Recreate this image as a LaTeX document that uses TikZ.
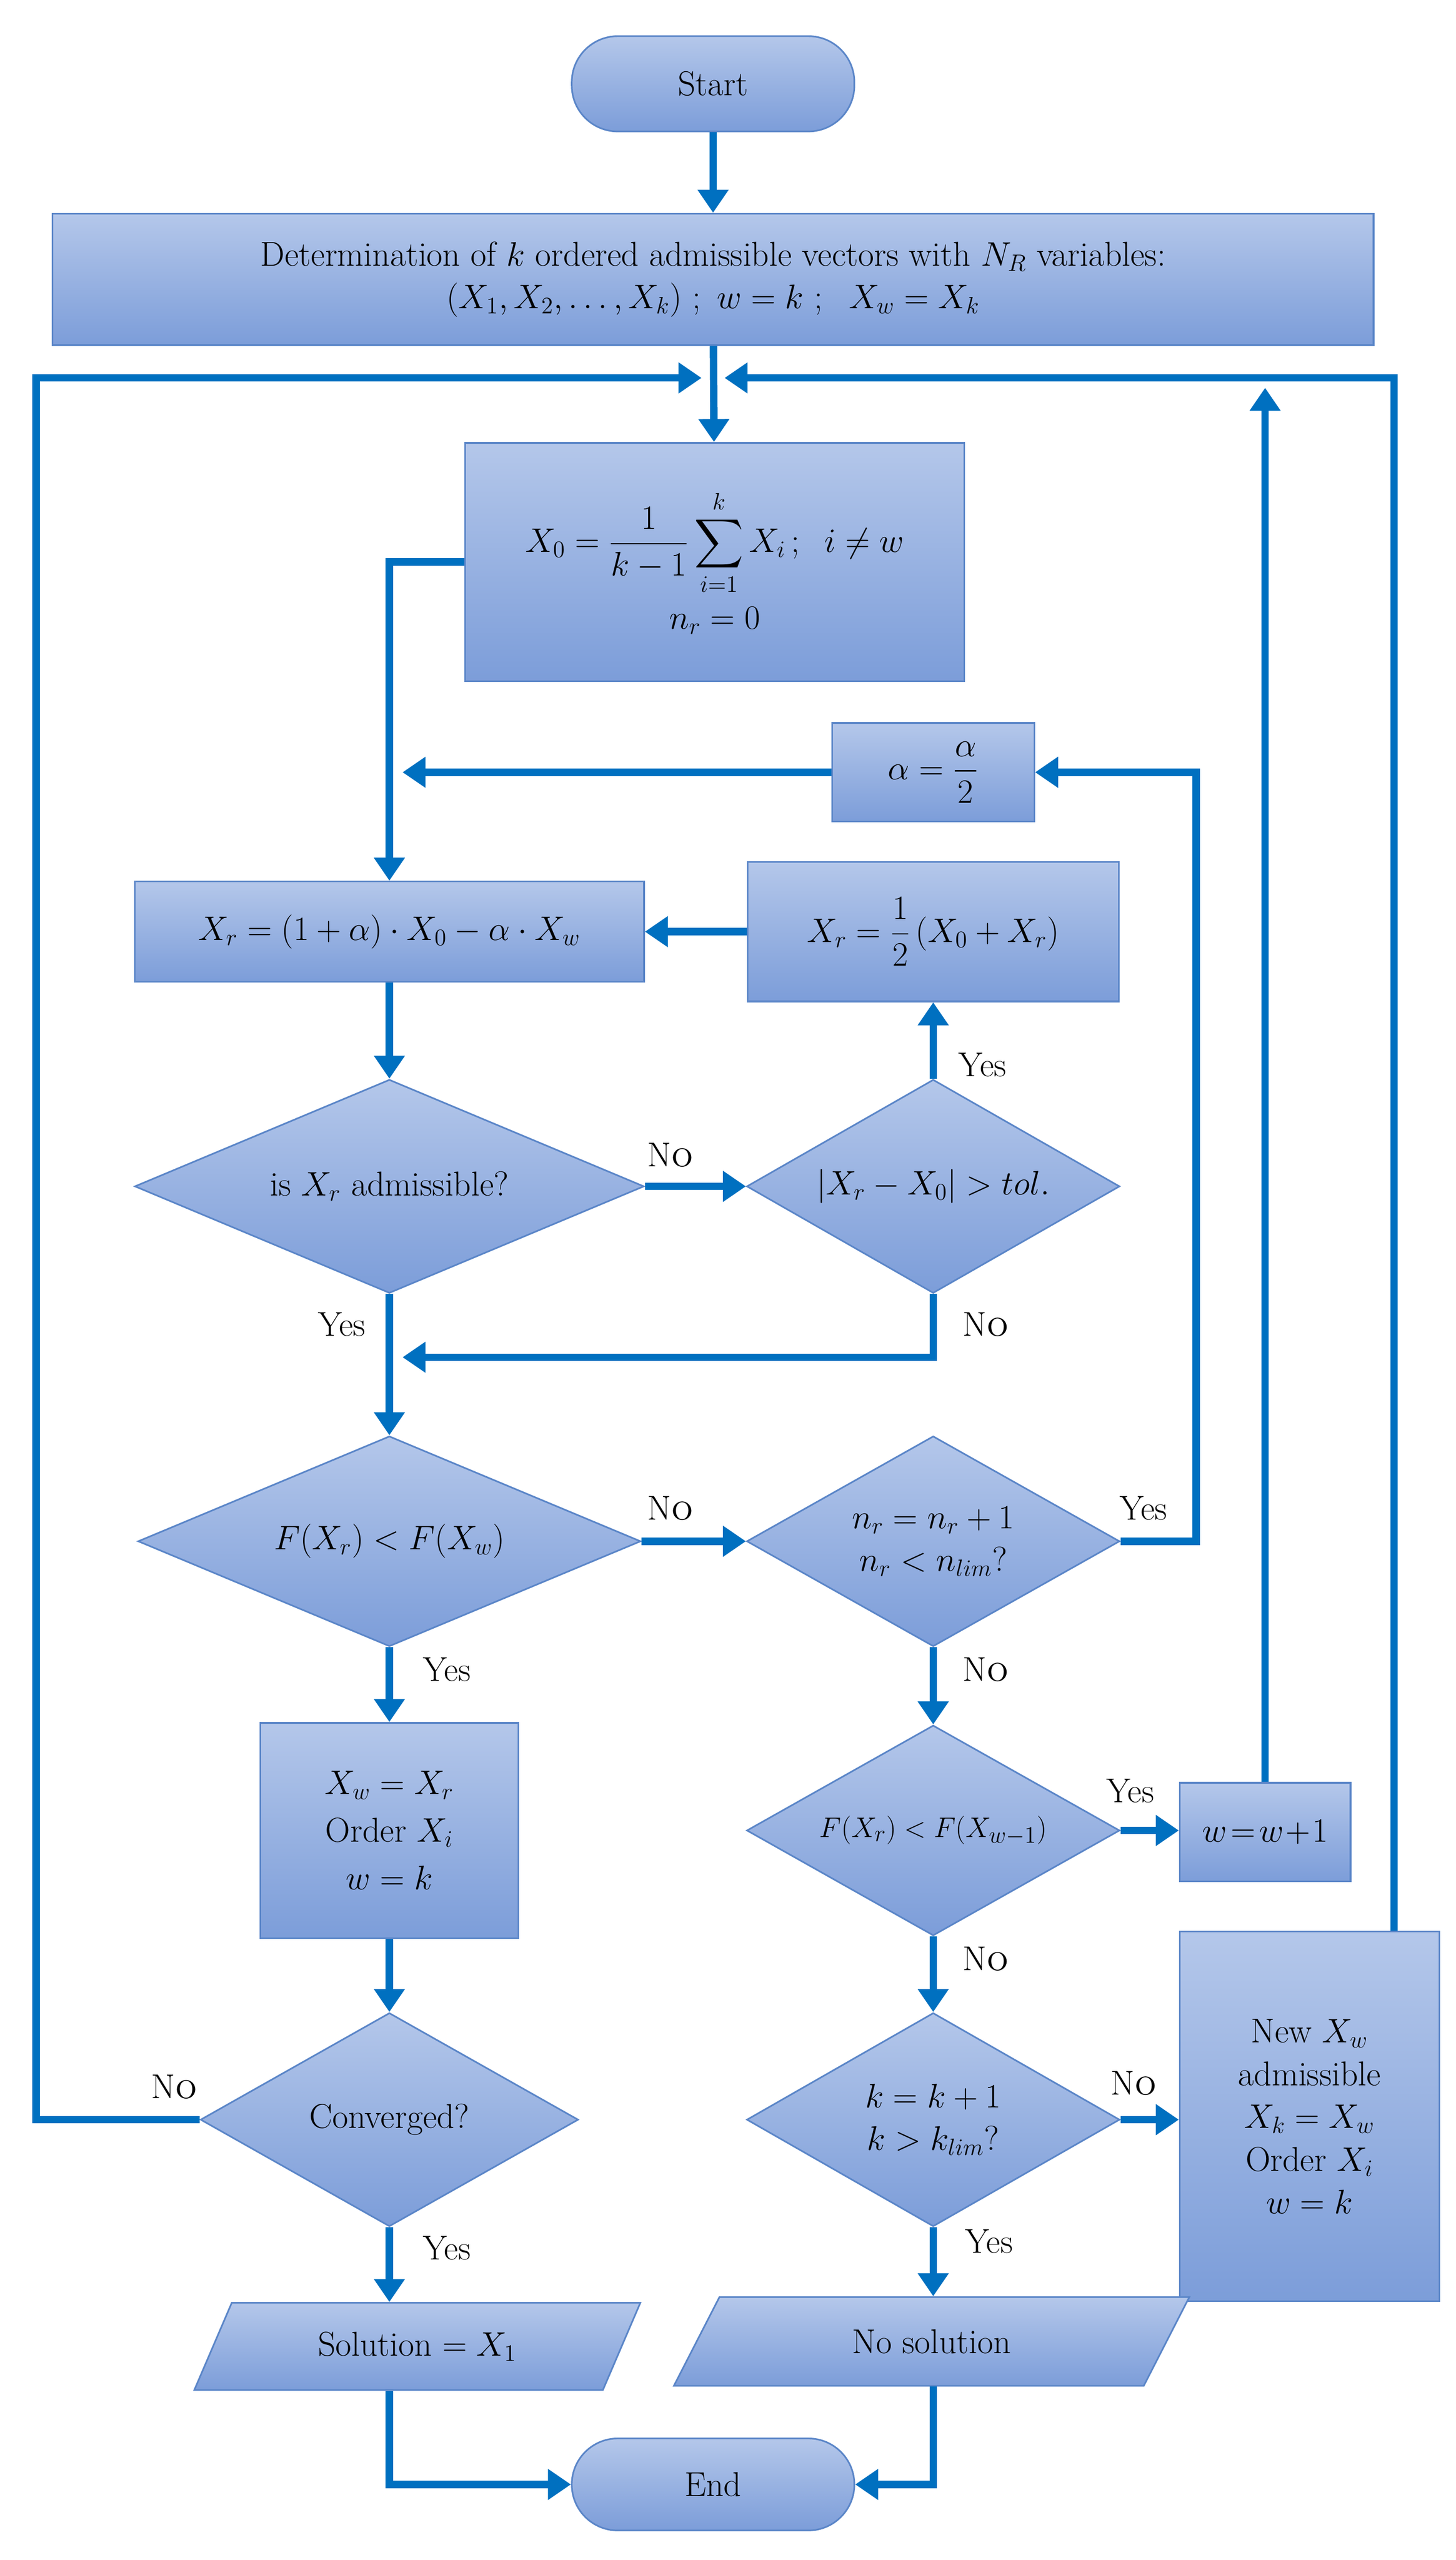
\documentclass[tikz,border=0pt]{standalone}
\usepackage{amsmath}
\usetikzlibrary{shapes.geometric,arrows.meta}
\definecolor{lnc}{HTML}{0070C0}
\definecolor{bd}{HTML}{5B86C8}
\definecolor{ft}{HTML}{B4C7EA}
\definecolor{fb}{HTML}{7C9DD9}
\newcommand{\NoL}{N\textsc{o}}
\begin{document}
\begin{tikzpicture}[x=1pt,y=-1pt,
 every node/.style={font=\fontsize{21}{26}\selectfont},
 base/.style={draw=bd, line width=1pt, top color=ft, bottom color=fb, inner sep=2pt, align=center},
 box/.style={base, rectangle},
 term/.style={base, rounded corners=28pt},
 dia/.style={base, diamond, inner sep=0pt, aspect=1.75},
 para/.style={base, trapezium, trapezium left angle=60, trapezium right angle=120, trapezium stretches=true},
 arr/.style={draw=lnc, line width=4.5pt, -{Triangle[length=14pt,width=18pt]}},
 wire/.style={draw=lnc, line width=4.5pt},
 lab/.style={inner sep=0pt}]
\useasboundingbox (0,0) rectangle (886,1558);
\node[term, minimum width=172pt, minimum height=58pt] (start) at (434,51) {Start};
\node[box, minimum width=804pt, minimum height=80pt] (b1) at (434,170) {Determination of $k$ ordered admissible vectors with $N_R$ variables:\\ $(X_1,X_2,\ldots,X_k)\ ;\ w=k\ ;\ \ X_w=X_k$};
\node[box, minimum width=304pt, minimum height=145pt] (b2) at (435,342) {$X_0=\dfrac{1}{k-1}\displaystyle\sum_{i=1}^{k}X_i\,;\;\; i\neq w$\\[6pt] $n_r=0$};
\node[box, minimum width=123pt, minimum height=60pt] (alpha) at (568,470) {$\alpha=\dfrac{\alpha}{2}$};
\node[box, minimum width=310pt, minimum height=61pt] (b3) at (237,567) {$X_r=(1+\alpha)\cdot X_0-\alpha\cdot X_w$};
\node[box, minimum width=226pt, minimum height=85pt] (b4) at (568,567) {$X_r=\dfrac{1}{2}\,(X_0+X_r)$};
\node[dia, aspect=2.4, minimum width=310pt, minimum height=130pt] (d1) at (237,722) {is $X_r$ admissible?};
\node[dia, minimum width=227pt, minimum height=130pt] (d2) at (568,722) {$|X_r-X_0|>tol.$};
\node[dia, aspect=2.4, minimum width=306pt, minimum height=128pt] (d3) at (237,938) {$F(X_r)<F(X_w)$};
\node[dia, minimum width=227pt, minimum height=128pt] (d4) at (568,938) {$n_r=n_r+1$\\$n_r<n_{lim}$?};
\node[box, minimum width=157pt, minimum height=131pt] (b5) at (237,1114) {$X_w=X_r$\\[3pt]Order $X_i$\\[3pt]$w=k$};
\node[dia, minimum width=227pt, minimum height=128pt, font=\fontsize{19}{24}\selectfont] (d5) at (568,1114) {$F(X_r)<F(X_{w-1})$};
\node[box, minimum width=104pt, minimum height=60pt] (b6) at (770,1115) {$w\!=\!w\!+\!1$};
\node[dia, minimum width=227pt, minimum height=130pt] (d6) at (568,1290) {$k=k+1$\\$k>k_{lim}$?};
\node[box, minimum width=158pt, minimum height=225pt] (b7) at (797,1288) {New $X_w$\\admissible\\$X_k=X_w$\\Order $X_i$\\$w=k$};
\node[dia, minimum width=230pt, minimum height=130pt] (d7) at (237,1290) {Converged?};
\node[para, minimum width=272pt, minimum height=53pt] (p1) at (254,1428) {Solution $=X_1$};
\node[para, minimum width=314pt, minimum height=54pt] (p2) at (567,1425) {No solution};
\node[term, minimum width=172pt, minimum height=56pt] (end) at (434,1512) {End};
\coordinate (jl) at (427,230);
\coordinate (jr) at (441,230);
\coordinate (vl1) at (245,470);
\coordinate (vl2) at (245,826);
\coordinate (c6) at (770,236);
% connectors
\draw[arr] (start) -- (b1);
\draw[arr] (b1) -- (b2);
\draw[arr] (d7.west) -- (22,1290) -- (22,230) -- (jl);
\draw[arr] ([xshift=-28pt]b7.north east) -- ++(0,-945) -- (jr);
\draw[arr] (b6.north) -- (c6);
\draw[arr] (b2.west) -| (b3.north);
\draw[arr] (alpha.west) -- (vl1);
\draw[arr] (b4.west) -- (b3.east);
\draw[arr] (b3) -- (d1);
\draw[arr] (d1.east) -- (d2.west);
\draw[arr] (d2.north) -- (b4.south);
\draw[arr] (d2.south) |- (vl2);
\draw[arr] (d1.south) -- (d3.north);
\draw[arr] (d3.east) -- (d4.west);
\draw[arr] (d4.east) -- (728,938) |- (alpha.east);
\draw[arr] (d3.south) -- (b5.north);
\draw[arr] (d4.south) -- (d5.north);
\draw[arr] (d5.east) -- (b6.west |- d5.east);
\draw[arr] (d5.south) -- (d6.north);
\draw[arr] (d6.east) -- (b7.west |- d6.east);
\draw[arr] (b5.south) -- (d7.north);
\draw[arr] (d7.south) -- (d7.south |- p1.north);
\draw[arr] (d6.south) -- (d6.south |- p2.north);
\draw[arr] (d7.south |- p1.south) |- (end.west);
\draw[arr] (d6.south |- p2.south) |- (end.east);
% labels
\node[lab] (l1) at (408,703) {\NoL};
\node[lab] (l2) at (598,648) {Yes};
\node[lab] (l3) at (600,806) {\NoL};
\node[lab] (l4) at (208,806) {Yes};
\node[lab] (l5) at (408,918) {\NoL};
\node[lab] (l6) at (696,918) {Yes};
\node[lab] (l7) at (272,1016) {Yes};
\node[lab] (l8) at (600,1016) {\NoL};
\node[lab] (l9) at (688,1090) {Yes};
\node[lab] (l10) at (600,1192) {\NoL};
\node[lab] (l11) at (690,1268) {\NoL};
\node[lab] (l12) at (106,1270) {\NoL};
\node[lab] (l13) at (272,1368) {Yes};
\node[lab] (l14) at (602,1364) {Yes};
\end{tikzpicture}
\end{document}
